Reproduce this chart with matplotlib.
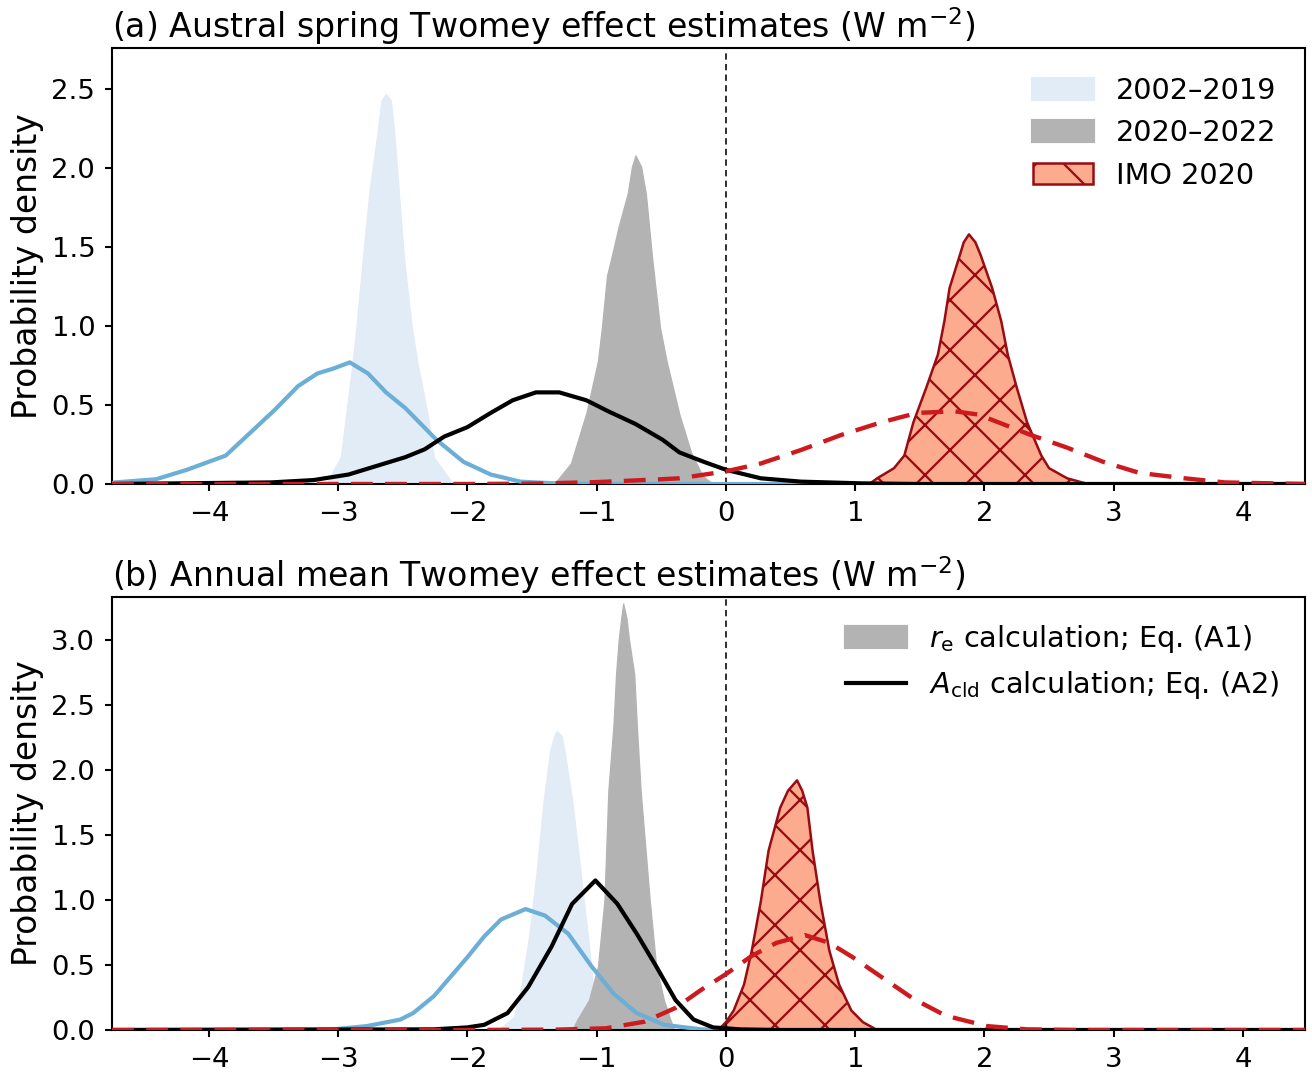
import matplotlib
matplotlib.use("Agg")
import matplotlib.pyplot as plt
from matplotlib.patches import Patch
from matplotlib.lines import Line2D

# ---- panel (a): austral spring ----
a_lb_x = [-3.15, -3.09, -2.98, -2.89, -2.86, -2.81, -2.76, -2.69, -2.665, -2.63, -2.593, -2.57, -2.53, -2.49, -2.43, -2.39, -2.31, -2.26, -2.12, -2.05]
a_lb_y = [0.0, 0.01, 0.17, 0.76, 0.99, 1.42, 1.84, 2.26, 2.43, 2.47, 2.43, 2.26, 1.84, 1.42, 0.99, 0.78, 0.45, 0.17, 0.01, 0.0]

a_gr_x = [-1.40, -1.32, -1.20, -1.08, -0.99, -0.96, -0.92, -0.89, -0.83, -0.76, -0.727, -0.70, -0.657, -0.62, -0.57, -0.51, -0.46, -0.36, -0.27, -0.18, -0.10]
a_gr_y = [0.0, 0.01, 0.13, 0.45, 0.78, 0.99, 1.32, 1.42, 1.63, 1.84, 2.01, 2.08, 2.01, 1.84, 1.42, 0.99, 0.78, 0.44, 0.20, 0.05, 0.0]

a_imo_x = [1.11, 1.17, 1.30, 1.38, 1.45, 1.55, 1.64, 1.69, 1.73, 1.81, 1.84, 1.88, 1.93, 1.97, 2.06, 2.13, 2.18, 2.25, 2.33, 2.44, 2.50, 2.64, 2.80]
a_imo_y = [0.0, 0.036, 0.10, 0.18, 0.39, 0.61, 0.82, 1.03, 1.24, 1.45, 1.53, 1.58, 1.53, 1.45, 1.24, 1.03, 0.82, 0.61, 0.39, 0.18, 0.10, 0.036, 0.0]

a_blue_x = [-4.75, -4.73, -4.41, -4.17, -3.87, -3.66, -3.49, -3.31, -3.16, -3.04, -2.91, -2.77, -2.63, -2.48, -2.24, -2.03, -1.82, -1.59, -1.32, -1.00, 0.00, 4.48]
a_blue_y = [0.005, 0.01, 0.03, 0.09, 0.18, 0.34, 0.47, 0.62, 0.70, 0.73, 0.77, 0.70, 0.58, 0.48, 0.28, 0.14, 0.06, 0.015, 0.004, 0.0, 0.0, 0.0]

a_black_x = [-4.75, -3.52, -3.19, -2.92, -2.72, -2.48, -2.33, -2.18, -2.00, -1.82, -1.65, -1.47, -1.29, -1.08, -0.91, -0.70, -0.49, -0.36, -0.17, 0.00, 0.27, 0.58, 1.05, 1.50, 4.48]
a_black_y = [0.0, 0.01, 0.025, 0.06, 0.11, 0.17, 0.22, 0.30, 0.36, 0.45, 0.53, 0.58, 0.58, 0.53, 0.46, 0.38, 0.28, 0.20, 0.14, 0.09, 0.036, 0.015, 0.004, 0.0, 0.0]

a_red_x = [-4.75, -2.00, -1.50, -1.00, -0.50, -0.36, 0.00, 0.27, 0.58, 0.89, 1.20, 1.48, 1.77, 1.95, 2.14, 2.36, 2.64, 2.92, 3.20, 3.55, 3.86, 4.48]
a_red_y = [0.0, 0.0, 0.002, 0.012, 0.03, 0.036, 0.08, 0.13, 0.215, 0.31, 0.39, 0.45, 0.46, 0.44, 0.38, 0.31, 0.23, 0.14, 0.07, 0.036, 0.01, 0.0]

# ---- panel (b): annual mean ----
b_lb_x = [-1.80, -1.75, -1.64, -1.58, -1.52, -1.46, -1.41, -1.36, -1.33, -1.31, -1.27, -1.25, -1.19, -1.13, -1.07, -1.03, -1.00, -0.93]
b_lb_y = [0.0, 0.01, 0.10, 0.36, 0.74, 1.26, 1.77, 2.15, 2.26, 2.30, 2.26, 2.15, 1.77, 1.26, 0.74, 0.36, 0.10, 0.0]

b_gr_x = [-1.19, -1.15, -1.06, -0.99, -0.94, -0.91, -0.87, -0.85, -0.83, -0.81, -0.795, -0.77, -0.75, -0.71, -0.69, -0.66, -0.59, -0.54, -0.48, -0.43, -0.40]
b_gr_y = [0.0, 0.08, 0.23, 0.49, 1.00, 1.84, 2.35, 2.74, 3.00, 3.17, 3.28, 3.17, 3.00, 2.74, 2.35, 1.84, 1.00, 0.49, 0.23, 0.08, 0.0]

b_imo_x = [-0.06, 0.00, 0.06, 0.14, 0.20, 0.27, 0.33, 0.42, 0.48, 0.55, 0.59, 0.63, 0.67, 0.73, 0.80, 0.875, 0.97, 1.06, 1.17]
b_imo_y = [0.0, 0.06, 0.15, 0.35, 0.61, 0.99, 1.38, 1.71, 1.84, 1.92, 1.84, 1.71, 1.38, 0.99, 0.61, 0.35, 0.15, 0.06, 0.0]

b_blue_x = [-4.75, -3.04, -2.78, -2.52, -2.42, -2.26, -2.13, -2.00, -1.87, -1.74, -1.55, -1.40, -1.22, -1.04, -0.87, -0.69, -0.48, -0.19, 0.10, 4.48]
b_blue_y = [0.0, 0.005, 0.03, 0.08, 0.13, 0.26, 0.41, 0.56, 0.72, 0.85, 0.93, 0.88, 0.74, 0.49, 0.28, 0.13, 0.04, 0.005, 0.0, 0.0]

b_black_x = [-4.75, -2.26, -2.00, -1.87, -1.69, -1.53, -1.35, -1.19, -1.01, -0.84, -0.69, -0.54, -0.39, -0.25, -0.10, 0.11, 0.40, 4.48]
b_black_y = [0.0, 0.005, 0.02, 0.04, 0.13, 0.33, 0.64, 0.97, 1.15, 0.97, 0.74, 0.49, 0.23, 0.08, 0.02, 0.005, 0.0, 0.0]

b_red_x = [-4.75, -2.00, -1.30, -0.93, -0.63, -0.39, -0.19, 0.00, 0.20, 0.39, 0.61, 0.80, 0.98, 1.20, 1.45, 1.70, 2.02, 2.33, 2.70, 4.48]
b_red_y = [0.0, 0.0, 0.003, 0.013, 0.064, 0.17, 0.31, 0.43, 0.57, 0.67, 0.73, 0.67, 0.56, 0.41, 0.24, 0.11, 0.03, 0.005, 0.0, 0.0]

labels_a = ["2002\u20132019", "2020\u20132022", "IMO 2020"]
labels_b = [r"$r_\mathrm{e}$ calculation; Eq. (A1)", r"$A_\mathrm{cld}$ calculation; Eq. (A2)"]
titles = ["(a) Austral spring Twomey effect estimates (W m$^{-2}$)",
          "(b) Annual mean Twomey effect estimates (W m$^{-2}$)"]

c_lb = "#e2ecf7"
c_blue = "#6baed6"
c_gray = "#b3b3b3"
c_fill = "#fcab8f"
c_edge = "#990c12"
c_red = "#cc1a1e"

plt.rcParams["hatch.linewidth"] = 0.55

W, H, DPI = 1312, 1072, 300
fig = plt.figure(figsize=(W / DPI, H / DPI), dpi=DPI)
ax_a = fig.add_axes([112 / W, 1 - 484 / H, (1305 - 112) / W, (484 - 48) / H])
ax_b = fig.add_axes([112 / W, 1 - 1030 / H, (1305 - 112) / W, (1030 - 597) / H])

panels = [
    (ax_a, a_lb_x, a_lb_y, a_gr_x, a_gr_y, a_imo_x, a_imo_y, a_blue_x, a_blue_y,
     a_black_x, a_black_y, a_red_x, a_red_y, 2.76, [0, 0.5, 1.0, 1.5, 2.0, 2.5]),
    (ax_b, b_lb_x, b_lb_y, b_gr_x, b_gr_y, b_imo_x, b_imo_y, b_blue_x, b_blue_y,
     b_black_x, b_black_y, b_red_x, b_red_y, 3.33, [0, 0.5, 1.0, 1.5, 2.0, 2.5, 3.0]),
]

for i, (ax, lbx, lby, grx, gry, imx, imy, blx, bly, bkx, bky, rdx, rdy, ytop, yt) in enumerate(panels):
    ax.fill_between(lbx, lby, color=c_lb, lw=0.3, zorder=1)
    ax.fill_between(grx, gry, color=c_gray, lw=0.3, zorder=1)
    ax.fill_between(imx, imy, facecolor=c_fill, edgecolor=c_edge, hatch="xx", lw=0.6, zorder=1)
    ax.axvline(0, color="k", ls=(0, (4, 2.7)), lw=0.38, zorder=2)
    ax.plot(blx, bly, color=c_blue, lw=1.0, zorder=3)
    ax.plot(bkx, bky, color="k", lw=1.0, zorder=3)
    ax.plot(rdx, rdy, color=c_red, lw=1.05, ls=(0, (5, 2.8)), zorder=4)
    ax.set_xlim(-4.75, 4.48)
    ax.set_ylim(0, ytop)
    ax.set_xticks([-4, -3, -2, -1, 0, 1, 2, 3, 4])
    ax.set_yticks(yt)
    ax.tick_params(labelsize=6.6, length=1.7, width=0.5, pad=2.3)
    for s in ax.spines.values():
        s.set_linewidth(0.5)
    ax.set_ylabel("Probability density", fontsize=7.9, labelpad=1.8)
    ax.set_title(titles[i], loc="left", fontsize=7.95, pad=2.5)

h_a = [Patch(facecolor=c_lb, edgecolor=c_lb),
       Patch(facecolor=c_gray, edgecolor=c_gray),
       Patch(facecolor=c_fill, edgecolor=c_edge, hatch="x", lw=0.6)]
ax_a.legend(h_a, labels_a, loc="upper right", frameon=False, fontsize=6.9,
            handlelength=2.1, handleheight=0.7, handletextpad=0.8, labelspacing=0.5,
            borderaxespad=0.6)

h_b = [Patch(facecolor=c_gray, edgecolor=c_gray), Line2D([], [], color="k", lw=1.0)]
ax_b.legend(h_b, labels_b, loc="upper right", frameon=False, fontsize=6.9,
            handlelength=2.1, handleheight=0.7, handletextpad=0.8, labelspacing=0.5,
            borderaxespad=0.5)

fig.savefig("out.png", dpi=DPI)
